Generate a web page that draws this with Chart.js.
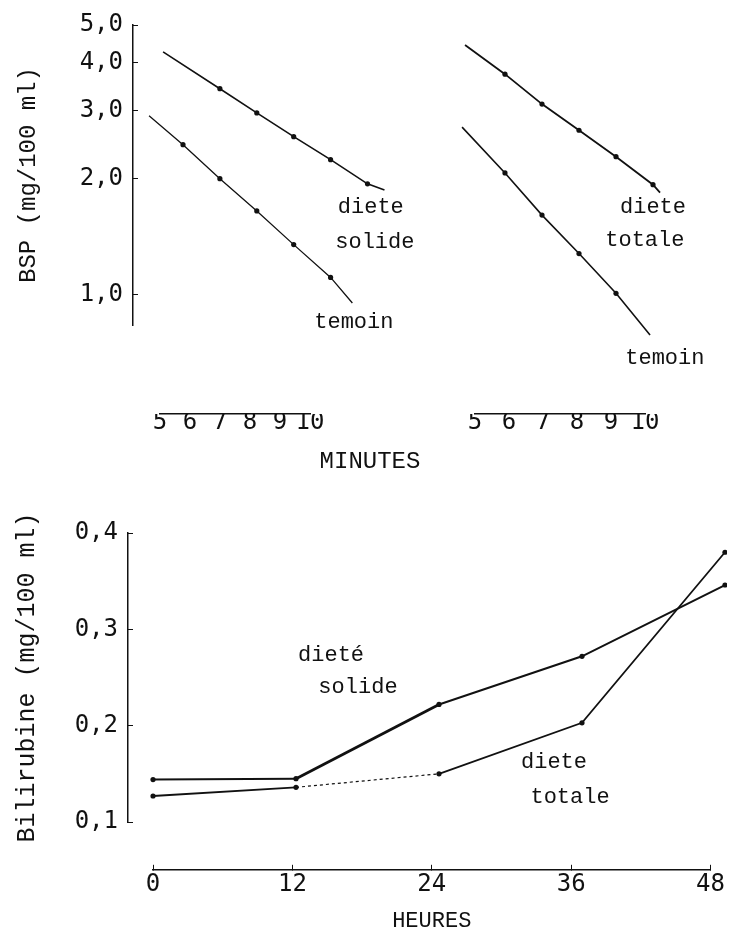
<!DOCTYPE html>
<html>
<head>
<meta charset="utf-8">
<script src="https://cdn.jsdelivr.net/npm/chart.js@4/dist/chart.umd.min.js"></script>
<style>
  body { margin: 0; background: #fff; }
  #page { position: relative; width: 731px; height: 937px; overflow: hidden; background: #fff; }
  canvas { position: absolute; }
</style>
</head>
<body>
<div id="page">
  <canvas id="bspA" width="420" height="360" style="left:0;top:-5px"></canvas>
  <canvas id="bspB" width="351" height="380" style="left:380px;top:0"></canvas>
  <canvas id="minutes" width="731" height="175" style="left:0;top:305px"></canvas>
  <canvas id="bili" width="731" height="380" style="left:0;top:480px"></canvas>
  <canvas id="heures" width="731" height="158" style="left:0;top:780px"></canvas>
</div>
<script>
// BSP (mg/100 ml) en fonction du temps (minutes), echelle log
// panneau gauche : diete solide / temoin
const minSolide = [4.46, 6, 7, 8, 9, 10, 10.46];
const bspSolide = [4.26, 3.42, 2.96, 2.57, 2.24, 1.94, 1.87];
const minTemoinA = [4.08, 5, 6, 7, 8, 9, 9.59];
const bspTemoinA = [2.91, 2.45, 2.00, 1.65, 1.35, 1.11, 0.953];
// panneau droit : diete totale / temoin
const minTotale = [3.92, 5, 6, 7, 8, 9, 9.19];
const bspTotale = [4.44, 3.73, 3.12, 2.67, 2.28, 1.93, 1.84];
const minTemoinB = [3.84, 5, 6, 7, 8, 8.92];
const bspTemoinB = [2.72, 2.07, 1.61, 1.28, 1.01, 0.788];
const bspTicks = [1, 2, 3, 4, 5];

// bilirubine (mg/100 ml) en fonction des heures
const heures = [0, 12, 24, 36, 48];
const biliSolide = [0.144, 0.145, 0.222, 0.272, 0.346];
const biliTotale = [0.127, 0.136, 0.150, 0.203, 0.380];
const biliTicks = [0.1, 0.2, 0.3, 0.4];

const ink = '#111';
const typeFont = 'Liberation Mono, DejaVu Sans Mono, monospace';
const digitFont = 'DejaVu Sans Mono, Liberation Mono, monospace';

Chart.defaults.color = ink;
Chart.defaults.font.family = typeFont;

const comma = (v, d) => Number(v).toFixed(d).replace('.', ',');

// petit plugin pour les etiquettes ecrites a cote des courbes
const notes = {
    id: 'notes',
    afterDatasetsDraw(chart, args, opts) {
        const { ctx, scales } = chart;
        ctx.save();
        ctx.fillStyle = ink;
        ctx.font = opts.font || ('22px ' + typeFont);
        ctx.textAlign = 'center';
        ctx.textBaseline = 'middle';
        (opts.items || []).forEach(n => {
            ctx.fillText(n.text, scales.x.getPixelForValue(n.x), scales.y.getPixelForValue(n.y));
        });
        ctx.restore();
    }
};

// une courbe : trait noir, points aux mesures (pas aux extremites du trait)
function serie(xs, ys, width) {
    const n = xs.length;
    return {
        data: xs.map((x, i) => ({ x: x, y: ys[i] })),
        showLine: true,
        borderColor: ink,
        borderWidth: width || 1.6,
        pointRadius: ctx => (ctx.dataIndex === 0 || ctx.dataIndex === n - 1) ? 0 : 2.6,
        pointBackgroundColor: ink,
        pointBorderWidth: 0,
        tension: 0
    };
}

const axisBorder = { display: true, color: ink, width: 1.5 };
// petites graduations tournees vers l'interieur
const axisGrid = { display: true, drawOnChartArea: false, drawTicks: true, tickLength: -5, color: ink };

// --- BSP gauche ---
new Chart(document.getElementById('bspA'), {
    type: 'scatter',
    data: { datasets: [serie(minSolide, bspSolide), serie(minTemoinA, bspTemoinA, 1.3)] },
    options: {
        responsive: false, animation: false, devicePixelRatio: 1,
        layout: { padding: { top: 30, bottom: 30, left: 0, right: 0 } },
        plugins: {
            legend: { display: false }, tooltip: { enabled: false },
            notes: { items: [
                { text: 'diete', x: 10.09, y: 1.69 },
                { text: 'solide', x: 10.2, y: 1.37 },
                { text: 'temoin', x: 9.63, y: 0.85 }
            ] }
        },
        scales: {
            x: { type: 'linear', display: false, min: 3.645, max: 11.423 },
            y: {
                type: 'logarithmic', min: 0.836, max: 5,
                afterBuildTicks: s => { s.ticks = bspTicks.map(v => ({ value: v })); },
                afterFit: s => { s.width = 133; },
                ticks: { callback: v => comma(v, 1), font: { family: digitFont, size: 24 }, color: ink, padding: 15 },
                grid: axisGrid, border: axisBorder,
                title: { display: true, text: 'BSP (mg/100 ml)', font: { family: typeFont, size: 24 }, color: ink, padding: { top: 14, bottom: 0 } }
            }
        }
    },
    plugins: [notes]
});

// --- BSP droite (sans axes) ---
new Chart(document.getElementById('bspB'), {
    type: 'scatter',
    data: { datasets: [serie(minTotale, bspTotale, 1.8), serie(minTemoinB, bspTemoinB, 1.6)] },
    options: {
        responsive: false, animation: false, devicePixelRatio: 1,
        layout: { padding: { top: 25, bottom: 37, left: 0, right: 0 } },
        plugins: {
            legend: { display: false }, tooltip: { enabled: false },
            notes: { items: [
                { text: 'diete', x: 9.0, y: 1.69 },
                { text: 'totale', x: 8.78, y: 1.39 },
                { text: 'temoin', x: 9.32, y: 0.687 }
            ] }
        },
        scales: {
            x: { type: 'linear', display: false, min: 1.622, max: 11.108 },
            y: { type: 'logarithmic', display: false, min: 0.751, max: 5 }
        }
    },
    plugins: [notes]
});

// --- axe des minutes : deux groupes cote a cote, meme hauteur pour toute la pile ---
const stripH = 66;
const minuteAxis = {
    type: 'linear', position: 'bottom', stack: 'min', min: 5, max: 10,
    afterFit: s => { s.height = stripH; },
    ticks: { stepSize: 1, autoSkip: false, maxRotation: 0, minRotation: 0,
             font: { family: digitFont, size: 24 }, color: ink, padding: -6 },
    grid: { display: true, drawOnChartArea: false, drawTicks: false, color: ink },
    border: axisBorder
};
const spacer = {
    type: 'linear', position: 'bottom', stack: 'min', min: 0, max: 1,
    afterFit: s => { s.height = stripH; },
    ticks: { display: false }, grid: { display: false }, border: { display: false }
};
new Chart(document.getElementById('minutes'), {
    type: 'scatter',
    data: { datasets: [] },
    options: {
        responsive: false, animation: false, devicePixelRatio: 1,
        layout: { padding: { top: 0, bottom: 0, left: 160, right: 86 } },
        plugins: { legend: { display: false }, tooltip: { enabled: false } },
        scales: {
            xa: Object.assign({}, minuteAxis, { stackWeight: 150 }),
            gap1: Object.assign({}, spacer, { stackWeight: 120,
                title: { display: true, text: 'MINUTES', font: { family: typeFont, size: 24 }, color: ink, padding: { top: 4, bottom: 4 } } }),
            gap2: Object.assign({}, spacer, { stackWeight: 45 }),
            xb: Object.assign({}, minuteAxis, { stackWeight: 170 })
        }
    }
});

// --- bilirubine ---
const totaleSeg = serie(heures, biliTotale, 1.8);
totaleSeg.pointRadius = 2.6;
totaleSeg.segment = { borderDash: ctx => ctx.p0DataIndex === 1 ? [3, 3] : undefined, borderWidth: ctx => ctx.p0DataIndex === 1 ? 1.2 : undefined };
const solideSeg = serie(heures, biliSolide, 2);
solideSeg.pointRadius = 2.6;
solideSeg.segment = { borderWidth: ctx => ctx.p0DataIndex === 1 ? 2.8 : undefined };

new Chart(document.getElementById('bili'), {
    type: 'scatter',
    data: { datasets: [solideSeg, totaleSeg] },
    options: {
        responsive: false, animation: false, devicePixelRatio: 1,
        layout: { padding: { top: 53, bottom: 38, left: 0, right: 4 } },
        plugins: {
            legend: { display: false }, tooltip: { enabled: false },
            notes: { items: [
                { text: 'dieté', x: 14.94, y: 0.2734 },
                { text: 'solide', x: 17.2, y: 0.240 },
                { text: 'diete', x: 33.65, y: 0.1623 },
                { text: 'totale', x: 35.0, y: 0.126 }
            ] }
        },
        scales: {
            x: { type: 'linear', display: false, min: -2.10, max: 48.17 },
            y: {
                type: 'linear', min: 0.1, max: 0.4,
                afterBuildTicks: s => { s.ticks = biliTicks.map(v => ({ value: v })); },
                afterFit: s => { s.width = 128; },
                ticks: { callback: v => comma(v, 1), font: { family: digitFont, size: 24 }, color: ink, padding: 15 },
                grid: axisGrid, border: axisBorder,
                title: { display: true, text: 'Bilirubine (mg/100 ml)', font: { family: typeFont, size: 25 }, color: ink, padding: { top: 12, bottom: 0 } }
            }
        }
    },
    plugins: [notes]
});

// --- axe des heures ---
new Chart(document.getElementById('heures'), {
    type: 'scatter',
    data: { datasets: [] },
    options: {
        responsive: false, animation: false, devicePixelRatio: 1,
        layout: { padding: { top: 0, bottom: 0, left: 153, right: 6 } },
        plugins: { legend: { display: false }, tooltip: { enabled: false } },
        scales: {
            x: {
                type: 'linear', position: 'bottom', min: 0, max: 48,
                ticks: { stepSize: 12, autoSkip: false, maxRotation: 0, font: { family: digitFont, size: 24 }, color: ink, padding: 6 },
                grid: { display: true, drawOnChartArea: false, tickLength: -5, color: ink },
                border: axisBorder,
                title: { display: true, text: 'HEURES', font: { family: typeFont, size: 22 }, color: ink, padding: { top: 2, bottom: 4 } }
            }
        }
    }
});
</script>
</body>
</html>
